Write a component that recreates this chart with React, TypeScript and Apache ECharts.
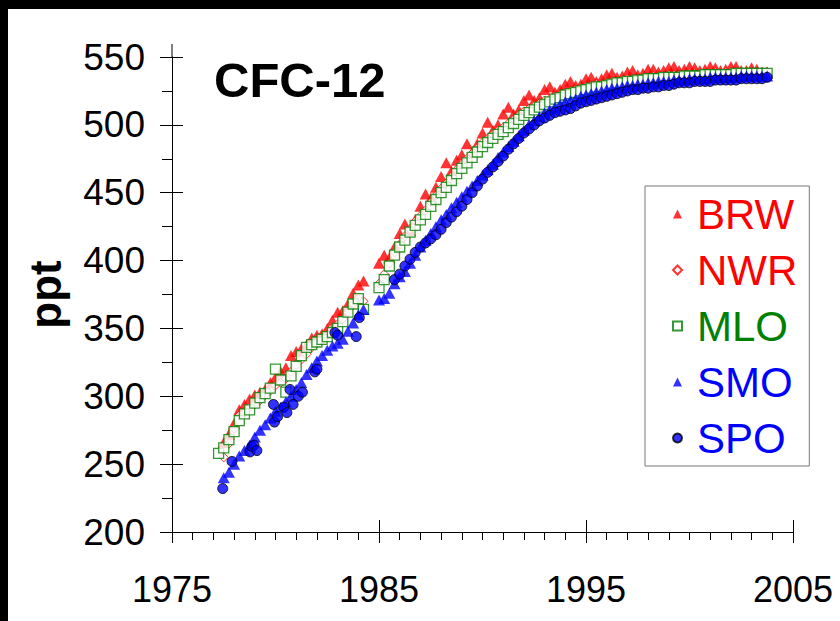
import React, { useEffect, useRef } from "react";
import * as echarts from "echarts";

// ---- data (ppt), quarterly samples unless noted ----
const EARLY_START = 1977.5; // BRW, NWR, SMO early segment start
const MLO_EARLY_START = 1977.25;
const LATE_START = 1985.0; // BRW, NWR, MLO, SMO late segment start
const SPO_LATE_START = 1985.75;
const STEP = 0.25;

const brwEarly = [266, 272, 280, 290, 294, 298, 301, 303, 305, 310, 314, 318, 321, 330, 333, 335, 338, 343, 345, 346, 350, 356, 362, 363, 368, 376, 382, 385];
const brwLate = [
  398, 404, 402, 410, 420, 427, 422, 430, 440, 449, 446, 454, 462, 472, 466, 474,
  478, 486, 480, 486, 494, 502, 496, 500, 508, 513, 508, 511, 518, 522, 518, 520,
  526, 528, 524, 526, 530, 532, 529, 530, 534, 535, 532, 534, 537, 538, 535, 536,
  539, 540, 537, 538, 541, 541, 539, 540, 542, 543, 540, 541, 543, 542, 540, 541,
  543, 542, 540, 541, 543, 543, 540, 540, 542, 541, 539, 539,
];

const nwrEarly = [255, 265, 276, 286, 288, 292, 294, 297, 301, 304, 308, 310, 313, 318, 323, 327, 331, 336, 339, 341, 345, 349, 353, 357, 362, 368, 372, 370];
const nwrLate = [
  383, 390, 398, 406, 412, 418, 423, 429, 433, 437, 443, 448, 453, 457, 462, 467,
  471, 475, 479, 483, 487, 490, 493, 496, 498, 501, 504, 507, 510, 512, 514, 516,
  518, 519, 521, 522, 524, 525, 526, 527, 528, 529, 530, 530, 531, 532, 532, 533,
  534, 534, 534, 535, 535, 536, 536, 536, 537, 537, 537, 537, 538, 538, 538, 538,
  538, 539, 538, 539, 539, 539, 539, 539, 539, 539, 538, 539,
];

const mloEarly = [258, 262, 268, 274, 282, 287, 290, 295, 299, 302, 306, 320, 312, 303, 315, 322, 330, 336, 338, 340, 342, 344, 347, 350, 355, 362, 368, 372, 364];
const mloLate = [
  380, 386, 396, 404, 410, 415, 421, 426, 430, 434, 440, 445, 450, 454, 459, 464,
  468, 472, 476, 480, 484, 487, 490, 493, 495, 498, 501, 504, 507, 509, 511, 513,
  515, 517, 519, 520, 522, 523, 524, 525, 526, 527, 528, 528, 529, 530, 531, 531,
  532, 532, 533, 533, 534, 534, 534, 535, 535, 535, 535, 536, 536, 536, 536, 537,
  537, 537, 537, 537, 537, 538, 538, 538, 538, 538, 538, 538,
];

const smoEarly = [240, 244, 250, 256, 260, 264, 270, 275, 279, 284, 289, 292, 296, 300, 305, 310, 316, 321, 326, 330, 334, 337, 339, 342, 348, 354, 360, 364];
const smoLate = [
  371, 372, 376, 383, 388, 392, 398, 404, 410, 415, 420, 425, 430, 434, 439, 443,
  447, 451, 455, 459, 463, 467, 471, 476, 480, 484, 488, 492, 496, 500, 503, 506,
  509, 511, 513, 515, 517, 518, 519, 521, 522, 523, 524, 525, 526, 527, 527, 528,
  529, 529, 530, 530, 531, 531, 532, 532, 532, 533, 533, 533, 534, 534, 534, 534,
  535, 535, 535, 535, 535, 535, 536, 536, 536, 536, 536, 536,
];

// SPO early flask samples (irregular times)
const spoEarlyYears = [1977.45, 1977.9, 1978.77, 1978.86, 1978.96, 1979.1, 1979.9, 1979.95, 1980.1, 1980.4, 1980.55, 1980.7, 1980.85, 1981.1, 1981.3, 1981.9, 1982.0, 1982.87, 1983.0, 1983.9, 1984.05];
const spoEarlyValues = [232, 252, 259, 263, 264, 260, 294, 281, 285, 292, 288, 305, 294, 300, 303, 318, 320, 347, 345, 344, 358];
const spoLate = [
  386, 390, 396, 401, 406, 410, 413, 416, 419, 423, 428, 432, 436, 440, 445, 450,
  455, 460, 465, 469, 473, 477, 482, 486, 490, 494, 497, 500, 503, 505, 507, 509,
  510, 511, 512, 514, 516, 517, 518, 519, 520, 521, 522, 523, 524, 525, 526, 526,
  527, 527, 528, 528, 529, 529, 530, 531, 531, 531, 532, 532, 532, 532, 533, 533,
  533, 533, 533, 534, 534, 534, 534, 534, 535,
];

const xTickLabels = [1975, 1985, 1995, 2005];
const yTicks = [200, 250, 300, 350, 400, 450, 500, 550];

const FONT = "'Liberation Sans', Arial, Helvetica, sans-serif";

function seq(start: number, values: number[]) {
  return values.map((v, i) => [start + i * STEP, v]);
}

export default function App() {
  const ref = useRef<HTMLDivElement>(null);
  useEffect(() => {
    if (!ref.current) return;
    document.body.style.margin = "0";
    document.body.style.background = "#fff";
    document.documentElement.style.background = "#fff";
    document.documentElement.style.overflow = "hidden";
    const chart = echarts.init(ref.current, undefined, { renderer: "svg" });
    const xMin = xTickLabels[0];
    const xMax = xTickLabels[xTickLabels.length - 1];
    const yMin = yTicks[0];
    const yMax = yTicks[yTicks.length - 1];
    const common = { silent: true, animation: false };
    const option: any = {
      animation: false,
      backgroundColor: "#ffffff",
      textStyle: { fontFamily: FONT },
      grid: { left: 172, top: 57, width: 621, height: 475, containLabel: false },
      title: {
        text: "CFC-12",
        left: 209,
        top: 50,
        textStyle: { fontFamily: FONT, fontSize: 49, fontWeight: "bold", color: "#000" },
      },
      legend: {
        orient: "vertical",
        left: 645,
        top: 186,
        padding: [7, 12, 7, 27],
        borderColor: "#777",
        borderWidth: 1,
        itemWidth: 9,
        itemHeight: 9,
        itemGap: 14,
        selectedMode: false,
        textStyle: { fontFamily: FONT, fontSize: 42, lineHeight: 42, padding: [0, 0, 0, 10] },
        data: [
          { name: "BRW", textStyle: { color: "#ff0000" } },
          { name: "NWR", textStyle: { color: "#ff0000" } },
          { name: "MLO", textStyle: { color: "#008000" } },
          { name: "SMO", textStyle: { color: "#0000ff" } },
          { name: "SPO", textStyle: { color: "#0000ff" } },
        ],
      },
      xAxis: [
        {
          type: "value",
          min: xMin,
          max: xMax,
          interval: 10,
          axisLine: { show: true, onZero: false, lineStyle: { color: "#000", width: 1 } },
          axisTick: { show: true, inside: false, length: 11, lineStyle: { color: "#000" } },
          minorTick: { show: true, splitNumber: 10, length: 8, lineStyle: { color: "#000" } },
          splitLine: { show: false },
          minorSplitLine: { show: false },
          axisLabel: {
            fontFamily: FONT,
            fontSize: 36,
            color: "#000",
            margin: 39,
            formatter: (v: number) => String(v),
          },
        },
        {
          type: "value",
          position: "bottom",
          min: xMin,
          max: xMax,
          interval: 10,
          axisLine: { show: false, onZero: false },
          axisTick: { show: true, inside: true, length: 12, lineStyle: { color: "#000" } },
          splitLine: { show: false },
          axisLabel: { show: false },
        },
      ],
      yAxis: [
        {
          type: "value",
          min: yMin,
          max: yMax,
          interval: 50,
          name: "ppt",
          nameLocation: "middle",
          nameGap: 105,
          nameTextStyle: { fontFamily: FONT, fontSize: 44, fontWeight: "bold", color: "#000" },
          axisLine: { show: true, onZero: false, lineStyle: { color: "#000", width: 1 } },
          axisTick: { show: true, inside: false, length: 12, lineStyle: { color: "#000" } },
          minorTick: { show: true, splitNumber: 2, length: 10, lineStyle: { color: "#000" } },
          splitLine: { show: false },
          minorSplitLine: { show: false },
          axisLabel: { fontFamily: FONT, fontSize: 37, color: "#000", margin: 27 },
        },
        {
          type: "value",
          position: "left",
          min: yMin,
          max: yMax,
          interval: 50,
          axisLine: { show: false, onZero: false },
          axisTick: { show: true, inside: true, length: 11, lineStyle: { color: "#000" } },
          splitLine: { show: false },
          axisLabel: { show: false },
        },
      ],
      series: [
        {
          ...common,
          name: "BRW",
          type: "scatter",
          symbol: "triangle",
          symbolSize: [12, 11],
          itemStyle: { color: "#ff0000" },
          data: [...seq(EARLY_START, brwEarly), ...seq(LATE_START, brwLate)],
        },
        {
          ...common,
          name: "NWR",
          type: "scatter",
          symbol: "diamond",
          symbolSize: 9,
          itemStyle: { color: "#ffffff", borderColor: "#ff0000", borderWidth: 1 },
          data: [...seq(EARLY_START, nwrEarly), ...seq(LATE_START, nwrLate)],
        },
        {
          ...common,
          name: "MLO",
          type: "scatter",
          symbol: "rect",
          symbolSize: 10,
          itemStyle: { color: "#ffffff", borderColor: "#008000", borderWidth: 1.3 },
          data: [...seq(MLO_EARLY_START, mloEarly), ...seq(LATE_START, mloLate)],
        },
        {
          ...common,
          name: "SMO",
          type: "scatter",
          symbol: "triangle",
          symbolSize: [12, 11],
          itemStyle: { color: "#0000ff" },
          data: [...seq(EARLY_START, smoEarly), ...seq(LATE_START, smoLate)],
        },
        {
          ...common,
          name: "SPO",
          type: "scatter",
          symbol: "circle",
          symbolSize: 10,
          itemStyle: { color: "#0000ff", borderColor: "#000000", borderWidth: 1 },
          data: [
            ...spoEarlyYears.map((t, i) => [t, spoEarlyValues[i]]),
            ...seq(SPO_LATE_START, spoLate),
          ],
        },
      ],
    };
    chart.setOption(option);
    const top = chart.convertToPixel({ gridIndex: 0 }, [xMin, yMax]) as number[];
    chart.setOption({
      graphic: [
        { type: "rect", shape: { x: 0, y: 0, width: 840, height: 9 }, style: { fill: "#000" }, silent: true },
        { type: "rect", shape: { x: 0, y: 0, width: 8, height: 621 }, style: { fill: "#000" }, silent: true },
        {
          type: "line",
          shape: { x1: top[0], y1: top[1] - 13, x2: top[0], y2: top[1] },
          style: { stroke: "#000", lineWidth: 1 },
          silent: true,
        },
      ],
    });
    return () => chart.dispose();
  }, []);
  return (
    <div
      ref={ref}
      style={{ position: "fixed", left: 0, top: 0, width: 840, height: 621, background: "#fff" }}
    />
  );
}
